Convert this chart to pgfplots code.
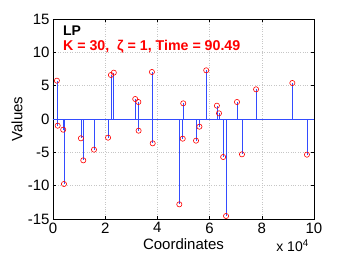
\documentclass[border=0pt]{standalone}
\usepackage{pgfplots}
\usepackage{pgfplotstable}
\pgfplotsset{compat=1.18}
\usepackage{fontspec}
\setmainfont{Liberation Sans}
\definecolor{stemblue}{rgb}{0.2,0.3,1}
\pgfplotstableread{
x y
1500 5.75
1800 -1.0
3900 -1.6
4200 -9.75
10700 -2.9
11600 -6.2
15700 -4.6
21100 -2.8
22200 6.6
23300 6.95
31500 3.0
32700 2.55
32800 -1.75
37900 7.05
38200 -3.65
48400 -12.8
49900 2.35
49700 -2.95
54800 -3.25
56100 -1.15
58700 7.3
62800 2.0
63600 0.85
65200 -5.7
66300 -14.55
70500 2.55
72400 -5.3
77800 4.45
91700 5.4
97300 -5.35
}\stems
\begin{document}
\begin{tikzpicture}
\path[use as bounding box] (-53pt,-41pt) rectangle (293pt,219pt);
\begin{axis}[
  scale only axis,
  width=261pt, height=200pt,
  at={(0,0)}, anchor=south west,
  xmin=0, xmax=100000, ymin=-15, ymax=15,
  xtick={0,20000,40000,60000,80000,100000},
  xticklabels={0,2,4,6,8,10},
  scaled x ticks=false,
  ytick={-15,-10,-5,0,5,10,15},
  tick align=inside,
  major tick length=3pt,
  grid=major,
  major grid style={dotted, gray!45, line width=0.5pt},
  axis line style={black, line width=0.5pt},
  tick style={black, line width=0.5pt},
  /pgf/number format/assume math mode=true,
  ticklabel style={font=\fontsize{15}{17}\selectfont},
  yticklabel style={/pgf/number format/fixed},
  label style={font=\fontsize{15}{17}\selectfont},
  xlabel={Coordinates},
  ylabel={Values},
  xlabel style={at={(axis description cs:0.5,0)}, anchor=north, yshift=-16pt},
  ylabel style={at={(axis description cs:0,0.5)}, anchor=south, xshift=0pt, yshift=27pt},
  clip=false,
]
\addplot[stemblue, line width=0.7pt, forget plot] coordinates {(0,0) (100000,0)};
\addplot[ycomb, stemblue, line width=0.7pt, no marks] table[x=x, y=y] {\stems};
\addplot[only marks, mark=o, mark size=2.6pt, mark options={draw=red, line width=0.6pt, solid}] table[x=x, y=y] {\stems};
\node[anchor=north west, inner sep=0pt, font=\fontsize{14}{16}\selectfont\bfseries]
  at (axis description cs:0.038,0.965) {LP};
\node[anchor=north west, inner sep=0pt, font=\fontsize{14.2}{16}\selectfont\bfseries, text=red]
  at (axis description cs:0.038,0.895) {K = 30,\ \ ζ = 1, Time = 90.49};
\node[anchor=base west, inner sep=0pt, font=\fontsize{14}{16}\selectfont]
  at (axis description cs:0.855,-0.165) {x 10\textsuperscript{4}};
\end{axis}
\end{tikzpicture}
\end{document}
